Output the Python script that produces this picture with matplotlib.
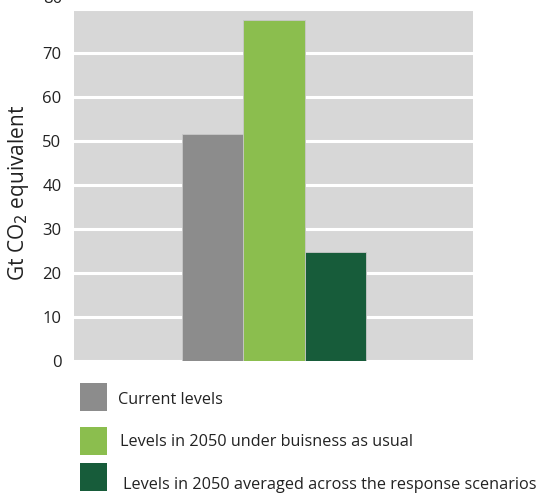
import matplotlib.pyplot as plt
from matplotlib.patches import Rectangle

plt.rcParams['font.family'] = ['Open Sans', 'DejaVu Sans']

labels = ['Current levels',
          'Levels in 2050 under buisness as usual',
          'Levels in 2050 averaged across the response scenarios']
values = [51.5, 77.4, 24.7]
colors = ['#8c8c8c', '#8bbe4e', '#175c3a']
yticks = [0, 10, 20, 30, 40, 50, 60, 70, 80]

fig = plt.figure(figsize=(5.45, 4.95), dpi=100)
ax = fig.add_axes([0.1358, 0.2713, 0.7321, 0.7105])
ax.set_facecolor('#d7d7d7')

xs = range(len(values))
ax.bar(xs, values, width=1.0, color=colors, edgecolor='#c8c8c8',
       linewidth=0.6, zorder=3)

ax.set_xlim(-2.25, 4.24)
ax.set_ylim(0, 80)
ax.set_yticks(yticks)
# top label sits a little above its gridline, drawn separately below
ax.set_yticklabels([str(t) for t in yticks[:-1]] + [''], fontsize=12, color='#222222')
ax.annotate(str(yticks[-1]), xy=(0, yticks[-1]), xycoords=('axes fraction', 'data'),
            xytext=(-8.6, 7.5), textcoords='offset points', ha='right', va='center',
            fontsize=12, color='#222222', annotation_clip=False)
ax.set_xticks([])
ax.tick_params(axis='y', length=0, pad=9)
ax.grid(axis='y', color='white', linewidth=2.2, zorder=1)
ax.set_axisbelow(True)
for s in ax.spines.values():
    s.set_visible(False)

ax.set_ylabel('Gt CO$_2$ equivalent', fontsize=15, color='#222222')
ax.yaxis.set_label_coords(-0.108, 0.476)

# legend drawn by hand below the axes
box_x = [80, 80, 80]
box_y = [383, 427, 463]
text_x = [118, 120, 123]
text_y = [400, 442, 485]
W, H = 545.0, 495.0
for i, lab in enumerate(labels):
    fig.patches.append(Rectangle((box_x[i] / W, 1 - (box_y[i] + 28) / H),
                                 27 / W, 28 / H, transform=fig.transFigure,
                                 facecolor=colors[i], edgecolor='none'))
    fig.text(text_x[i] / W, 1 - text_y[i] / H, lab, fontsize=11.7,
             color='#222222', va='center', ha='left')

fig.savefig('out.png', dpi=100)
